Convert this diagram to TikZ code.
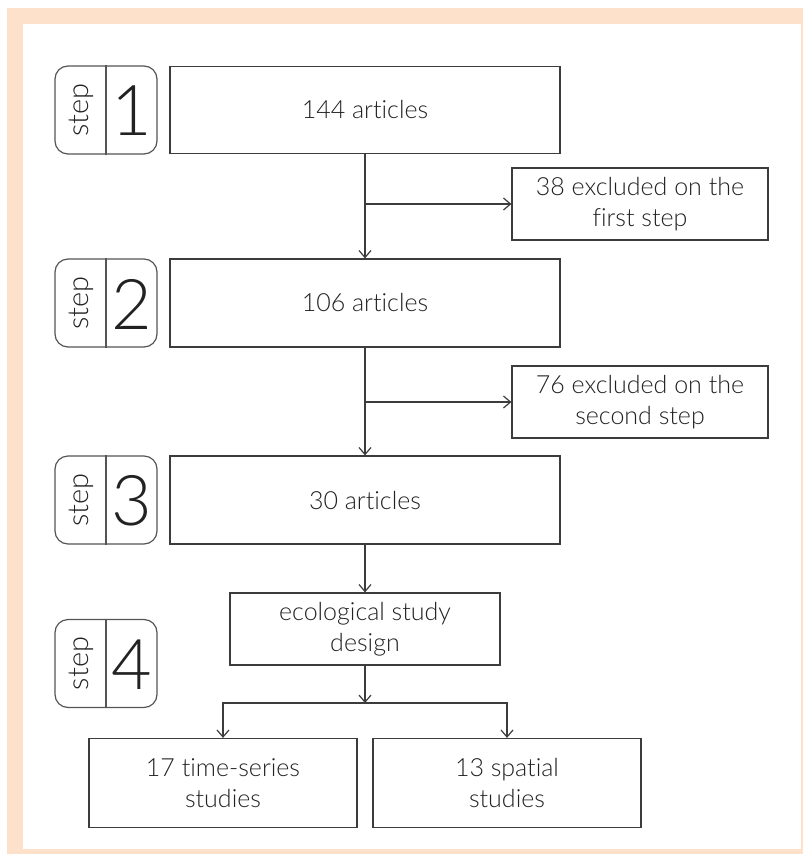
\documentclass[tikz,border=0pt]{standalone}
\usepackage{fontspec}
\setmainfont{Lato Light}[Ligatures=NoCommon]
\usetikzlibrary{arrows.meta}
\definecolor{peach}{RGB}{253,225,203}
\definecolor{boxline}{RGB}{60,60,60}
\definecolor{stepline}{RGB}{85,85,85}
\definecolor{textc}{RGB}{34,34,34}
\tikzset{
  fbox/.style={draw=boxline, line width=1.2pt, align=center, inner sep=0pt,
    font=\fontsize{25}{31}\selectfont, text=textc},
  stepbox/.style={draw=stepline, line width=1.2pt, rounded corners=13pt,
    minimum width=102pt, minimum height=88pt, inner sep=0pt},
  steplbl/.style={rotate=90, font=\fontsize{29}{29}\selectfont, text=textc, inner sep=0pt},
  stepnum/.style={font=\fontsize{70}{70}\selectfont, text=textc, inner sep=0pt},
  divider/.style={draw=stepline, line width=1.2pt},
  arr/.style={draw=boxline, line width=1.2pt, -{Straight Barb[length=7pt,width=12pt,line width=1.2pt]}},
}
\begin{document}
\begin{tikzpicture}[x=1pt,y=-1pt]
\useasboundingbox (0,0) rectangle (803,854);
\fill[peach] (7,8) rectangle (803,854);
\fill[white] (23,24) rectangle (801,849);

% main boxes
\node[fbox, minimum width=390pt, minimum height=87pt] (a1) at (365,110) {144 articles};
\node[fbox, minimum width=390pt, minimum height=88pt] (a2) at (365,303) {106 articles};
\node[fbox, minimum width=390pt, minimum height=88pt] (a3) at (365,500) {30 articles};
\node[fbox, minimum width=256pt, minimum height=72pt] (e1) at (640,204) {38 excluded on the\\first step};
\node[fbox, minimum width=256pt, minimum height=72pt] (e2) at (640,402) {76 excluded on the\\second step};
\node[fbox, minimum width=270pt, minimum height=72pt] (eco) at (365,629) {ecological study\\design};
\node[fbox, minimum width=268pt, minimum height=89pt] (b1) at (223,783) {17 time-series\\studies};
\node[fbox, minimum width=268pt, minimum height=89pt] (b2) at (507,783) {13 spatial\\studies};

% step boxes
\foreach \n/\y in {1/110, 2/303, 3/500, 4/663.5}{
  \node[stepbox] (s\n) at (106,\y) {};
  \draw[divider] (s\n.north) -- (s\n.south);
  \node[steplbl] (s\n t) at ([xshift=-25pt]s\n.center) {step};
  \node[stepnum] (s\n n) at ([xshift=25.5pt,yshift=-1pt]s\n.center) {\n};
}

% connectors
\draw[arr] (a1.south) -- (a2.north);
\draw[arr] (a1.south |- e1.west) -- (e1.west);
\draw[arr] (a2.south) -- (a3.north);
\draw[arr] (a2.south |- e2.west) -- (e2.west);
\draw[arr] (a3.south) -- (eco.north);
\coordinate (j) at (365,703);
\draw[arr] (eco.south) -- (j);
\draw[arr] (j) -| (b1.north);
\draw[arr] (j) -| (b2.north);
\end{tikzpicture}
\end{document}
